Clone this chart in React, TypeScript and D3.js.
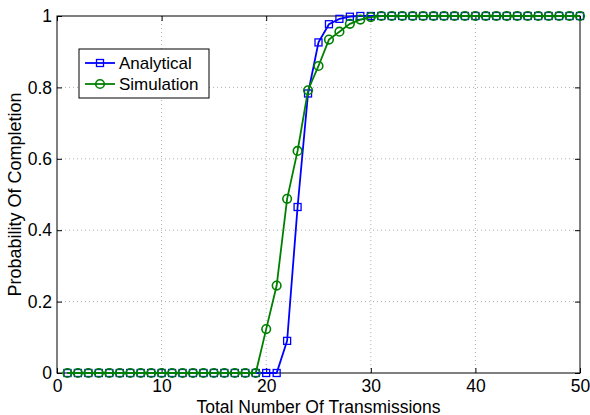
import React, { useEffect, useRef } from 'react';
import * as d3 from 'd3';

const xs = d3.range(1, 51);
const analytical = [
  0, 0, 0, 0, 0, 0, 0, 0, 0, 0,
  0, 0, 0, 0, 0, 0, 0, 0, 0, 0,
  0, 0.09, 0.465, 0.783, 0.926, 0.977, 0.992, 0.998, 1, 1,
  1, 1, 1, 1, 1, 1, 1, 1, 1, 1,
  1, 1, 1, 1, 1, 1, 1, 1, 1, 1,
];
const simulation = [
  0, 0, 0, 0, 0, 0, 0, 0, 0, 0,
  0, 0, 0, 0, 0, 0, 0, 0, 0, 0.123,
  0.245, 0.488, 0.622, 0.792, 0.86, 0.934, 0.956, 0.978, 0.99, 0.997,
  1, 1, 1, 1, 1, 1, 1, 1, 1, 1,
  1, 1, 1, 1, 1, 1, 1, 1, 1, 1,
];
const xTicks = [0, 10, 20, 30, 40, 50];
const yTicks = [0, 0.2, 0.4, 0.6, 0.8, 1];

const App: React.FC = () => {
  const svgRef = useRef<SVGSVGElement | null>(null);

  useEffect(() => {
    if (!svgRef.current) return;
    const width = 590;
    const height = 415;
    const margin = { top: 16, right: 10, bottom: 42, left: 57 };
    const font = 'Helvetica, Arial, "Liberation Sans", sans-serif';

    const svg = d3.select(svgRef.current);
    svg.selectAll('*').remove();

    const x = d3.scaleLinear().domain([0, 50]).range([margin.left, width - margin.right]);
    const y = d3.scaleLinear().domain([0, 1]).range([height - margin.bottom, margin.top]);

    // grid
    const grid = svg.append('g');
    grid.selectAll('line.gx')
      .data(xTicks.slice(1, -1))
      .enter()
      .append('line')
      .attr('x1', (d) => x(d)).attr('x2', (d) => x(d))
      .attr('y1', y(0)).attr('y2', y(1))
      .attr('stroke', '#999').attr('stroke-width', 0.8)
      .attr('stroke-dasharray', '1,3');
    grid.selectAll('line.gy')
      .data(yTicks.slice(1, -1))
      .enter()
      .append('line')
      .attr('y1', (d) => y(d)).attr('y2', (d) => y(d))
      .attr('x1', x(0)).attr('x2', x(50))
      .attr('stroke', '#999').attr('stroke-width', 0.8)
      .attr('stroke-dasharray', '1,3');

    // axes (ticks inward)
    const xAxis = d3.axisBottom(x).tickValues(xTicks).tickSize(-5).tickPadding(7).tickFormat(d3.format('d'));
    const yAxis = d3.axisLeft(y).tickValues(yTicks).tickSize(-5).tickPadding(5).tickFormat((d) => `${d}`);
    const gx = svg.append('g').attr('transform', `translate(0,${y(0)})`).call(xAxis);
    const gy = svg.append('g').attr('transform', `translate(${x(0)},0)`).call(yAxis);
    [gx, gy].forEach((g) => {
      g.select('.domain').remove();
      g.selectAll('text').attr('font-family', font).attr('font-size', 17.5).attr('fill', '#000');
      g.selectAll('line').attr('stroke', '#000');
    });
    // top / right ticks
    svg.append('g').attr('transform', `translate(0,${y(1)})`)
      .call(d3.axisTop(x).tickValues(xTicks).tickSize(-5).tickFormat(() => ''))
      .call((g) => g.select('.domain').remove());
    svg.append('g').attr('transform', `translate(${x(50)},0)`)
      .call(d3.axisRight(y).tickValues(yTicks).tickSize(-5).tickFormat(() => ''))
      .call((g) => g.select('.domain').remove());

    svg.append('rect')
      .attr('x', x(0)).attr('y', y(1))
      .attr('width', x(50) - x(0)).attr('height', y(0) - y(1))
      .attr('fill', 'none').attr('stroke', '#000').attr('stroke-width', 1);

    const line = d3.line<number>().x((_, i) => x(xs[i])).y((d) => y(d));

    const blue = '#0000ff';
    const green = '#008000';

    // analytical
    svg.append('path').datum(analytical).attr('d', line)
      .attr('fill', 'none').attr('stroke', blue).attr('stroke-width', 1.8);
    svg.selectAll('rect.an').data(analytical).enter().append('rect')
      .attr('x', (_, i) => x(xs[i]) - 3.5).attr('y', (d) => y(d) - 3.5)
      .attr('width', 7).attr('height', 7)
      .attr('fill', 'none').attr('stroke', blue).attr('stroke-width', 1.3);

    // simulation
    svg.append('path').datum(simulation).attr('d', line)
      .attr('fill', 'none').attr('stroke', green).attr('stroke-width', 1.8);
    svg.selectAll('circle.sim').data(simulation).enter().append('circle')
      .attr('cx', (_, i) => x(xs[i])).attr('cy', (d) => y(d)).attr('r', 4.3)
      .attr('fill', 'none').attr('stroke', green).attr('stroke-width', 1.6);

    // legend
    const lg = svg.append('g').attr('transform', 'translate(79,49)');
    lg.append('rect').attr('width', 130).attr('height', 49)
      .attr('fill', '#fff').attr('stroke', '#000').attr('stroke-width', 1);
    lg.append('line').attr('x1', 6).attr('x2', 36).attr('y1', 14).attr('y2', 14)
      .attr('stroke', blue).attr('stroke-width', 1.8);
    lg.append('rect').attr('x', 17.5).attr('y', 10.5).attr('width', 7).attr('height', 7)
      .attr('fill', 'none').attr('stroke', blue).attr('stroke-width', 1.3);
    lg.append('line').attr('x1', 6).attr('x2', 36).attr('y1', 35).attr('y2', 35)
      .attr('stroke', green).attr('stroke-width', 1.8);
    lg.append('circle').attr('cx', 21).attr('cy', 35).attr('r', 4.3)
      .attr('fill', 'none').attr('stroke', green).attr('stroke-width', 1.6);
    lg.append('text').attr('x', 40).attr('y', 20).text('Analytical')
      .attr('font-family', font).attr('font-size', 17);
    lg.append('text').attr('x', 40).attr('y', 41).text('Simulation')
      .attr('font-family', font).attr('font-size', 17);

    // axis labels
    svg.append('text')
      .attr('x', (x(0) + x(50)) / 2).attr('y', 412.5)
      .attr('text-anchor', 'middle')
      .attr('font-family', font).attr('font-size', 17.5)
      .text('Total Number Of Transmissions');
    svg.append('text')
      .attr('transform', `translate(20.5,${(y(0) + y(1)) / 2}) rotate(-90)`)
      .attr('text-anchor', 'middle')
      .attr('font-family', font).attr('font-size', 18)
      .text('Probability Of Completion');
  }, []);

  return (
    <svg
      ref={svgRef}
      width={590}
      height={415}
      style={{ position: 'absolute', left: 0, top: 0, background: '#fff' }}
    />
  );
};

export default App;
